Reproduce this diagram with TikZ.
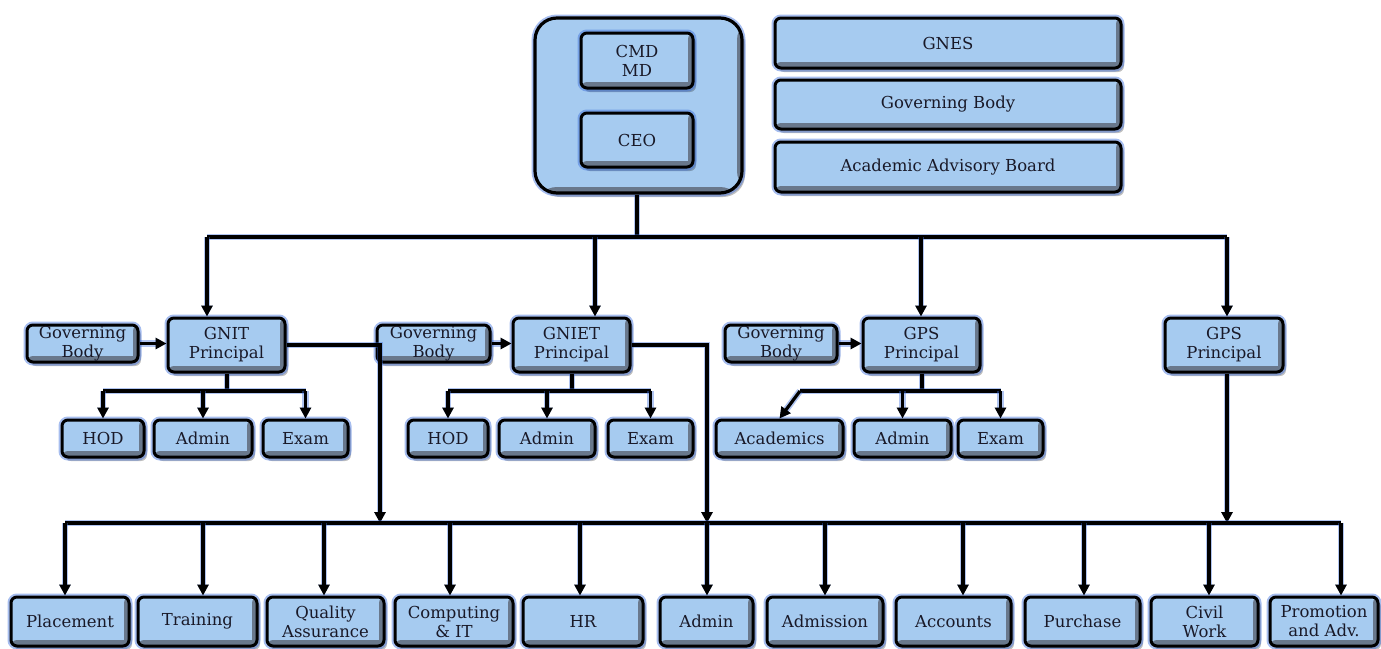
\documentclass[tikz,border=0pt]{standalone}
\usepackage{fontspec}
\setmainfont{DejaVu Serif}
\usetikzlibrary{arrows.meta,shadows}
\definecolor{boxblue}{RGB}{166,203,240}
\definecolor{bevelc}{RGB}{105,120,140}
\definecolor{glowblue}{RGB}{60,110,220}
\definecolor{txt}{RGB}{25,25,40}
\tikzset{
  orgbox/.style={draw=black, line width=3pt, fill=boxblue, rounded corners=6pt,
    text=txt, align=center, inner sep=0pt, font=\fontsize{16.5}{19}\selectfont,
    drop shadow={shadow xshift=3pt, shadow yshift=-4pt, opacity=0.25, fill=black},
    preaction={draw=glowblue, line width=7pt, opacity=0.45},
    path picture={
      \fill[bevelc] ([yshift=6pt]path picture bounding box.south west) rectangle (path picture bounding box.south east);
      \fill[bevelc] ([xshift=-5pt]path picture bounding box.north east) rectangle (path picture bounding box.south east);}},
  bigbox/.style={orgbox, rounded corners=22pt, line width=3.2pt},
  sz/.style 2 args={minimum width=#1pt, minimum height=#2pt},
  conn/.style={draw=black, line width=3.2pt, preaction={draw=glowblue, line width=6.5pt, opacity=0.4}},
  arr/.style={conn, -{Triangle[length=11pt,width=11pt]}},
}
\begin{document}
\begin{tikzpicture}[x=1pt,y=-1pt]
\useasboundingbox (0,0) rectangle (1381,648);
% top
\node[bigbox, sz={207}{175}] (cmdbox) at (638.5,105.5) {};
\node[orgbox, sz={112}{55}] (cmd) at (637,60.5) {CMD\\MD};
\node[orgbox, sz={112}{54}] (ceo) at (637,140) {CEO};
\node[orgbox, sz={346}{50}] (gnes) at (948,43) {GNES};
\node[orgbox, sz={346}{49}] (gb0) at (948,104.5) {Governing Body};
\node[orgbox, sz={346}{50}] (aab) at (948,167) {Academic Advisory Board};
% row 2
\node[orgbox, sz={111}{37}] (gb1) at (82.5,343.5) {Governing\\Body};
\node[orgbox, sz={117}{54}] (gnit) at (226.5,345) {GNIT\\Principal};
\node[orgbox, sz={113}{37}] (gb2) at (433.5,343.5) {Governing\\Body};
\node[orgbox, sz={117}{54}] (gniet) at (571.5,345) {GNIET\\Principal};
\node[orgbox, sz={112}{37}] (gb3) at (781,343.5) {Governing\\Body};
\node[orgbox, sz={117}{54}] (gps) at (921.5,345) {GPS\\Principal};
\node[orgbox, sz={118}{54}] (gps2) at (1224,345) {GPS\\Principal};
% row 3
\node[orgbox, sz={82}{37}] (hod1) at (103,438.5) {HOD};
\node[orgbox, sz={98}{37}] (adm1) at (203,438.5) {Admin};
\node[orgbox, sz={85}{37}] (ex1) at (305.5,438.5) {Exam};
\node[orgbox, sz={80}{37}] (hod2) at (448,438.5) {HOD};
\node[orgbox, sz={96}{37}] (adm2) at (547,438.5) {Admin};
\node[orgbox, sz={85}{37}] (ex2) at (650.5,438.5) {Exam};
\node[orgbox, sz={127}{37}] (acad) at (779.5,438.5) {Academics};
\node[orgbox, sz={97}{37}] (adm3) at (902.5,438.5) {Admin};
\node[orgbox, sz={85}{37}] (ex3) at (1000.5,438.5) {Exam};
% bottom
\node[orgbox, sz={118}{49}] (plc) at (70,621.5) {Placement};
\node[orgbox, sz={119}{49}] (trn) at (197.5,621.5) {Training};
\node[orgbox, sz={117}{49}] (qa) at (325.5,621.5) {Quality\\Assurance};
\node[orgbox, sz={118}{49}] (cit) at (454,621.5) {Computing\\\& IT};
\node[orgbox, sz={120}{49}] (hr) at (583,621.5) {HR};
\node[orgbox, sz={93}{49}] (adm) at (706.5,621.5) {Admin};
\node[orgbox, sz={116}{49}] (admn) at (825,621.5) {Admission};
\node[orgbox, sz={115}{49}] (acc) at (953.5,621.5) {Accounts};
\node[orgbox, sz={115}{49}] (pur) at (1082.5,621.5) {Purchase};
\node[orgbox, sz={107}{49}] (civ) at (1204.5,621.5) {Civil\\Work};
\node[orgbox, sz={108}{49}] (pro) at (1324,621.5) {Promotion\\and Adv.};
% top bus
\coordinate (tb) at (637,237);
\coordinate (t1) at (207,237);
\coordinate (t2) at (595,237);
\coordinate (t3) at (921,237);
\coordinate (t4) at (1227,237);
\draw[conn] (cmdbox.south -| tb) -- (tb);
\draw[conn] (t1) -- (t4);
\draw[arr] (t1) -- (t1 |- gnit.north);
\draw[arr] (t2) -- (t2 |- gniet.north);
\draw[arr] (t3) -- (t3 |- gps.north);
\draw[arr] (t4) -- (t4 |- gps2.north);
% governing body arrows
\draw[arr] (gb1.east) -- (gb1.east -| gnit.west);
\draw[arr] (gb2.east) -- (gb2.east -| gniet.west);
\draw[arr] (gb3.east) -- (gb3.east -| gps.west);
% principal to bottom bus
\coordinate (v1) at (380,523);
\coordinate (v2) at (707,523);
\coordinate (v3) at (1227,523);
\draw[arr] (gnit.east) -| (v1);
\draw[arr] (gniet.east) -| (v2);
\draw[arr] (v3 |- gps2.south) -- (v3);
% bottom bus
\coordinate (b0) at (65,523);
\coordinate (b1) at (1341,523);
\draw[conn] (b0) -- (b1);
\foreach \x/\n in {65/plc,203/trn,324/qa,450/cit,580/hr,707/adm,825/admn,963/acc,1084/pur,1209/civ,1341/pro}{
  \coordinate (bx) at (\x,523);
  \draw[arr] (bx) -- (bx |- \n.north);
}
% GNIT sub-bus
\coordinate (s1) at (227,391);
\draw[conn] (s1 |- gnit.south) -- (s1);
\draw[conn] (hod1.north |- s1) -- (ex1.north |- s1);
\draw[arr] (hod1.north |- s1) -- (hod1.north);
\draw[arr] (adm1.north |- s1) -- (adm1.north);
\draw[arr] (ex1.north |- s1) -- (ex1.north);
% GNIET sub-bus
\coordinate (s2) at (572,391);
\draw[conn] (s2 |- gniet.south) -- (s2);
\draw[conn] (hod2.north |- s2) -- (ex2.north |- s2);
\draw[arr] (hod2.north |- s2) -- (hod2.north);
\draw[arr] (adm2.north |- s2) -- (adm2.north);
\draw[arr] (ex2.north |- s2) -- (ex2.north);
% GPS sub-bus
\coordinate (s3) at (922,391);
\coordinate (g0) at (800,391);
\draw[conn] (s3 |- gps.south) -- (s3);
\draw[conn] (g0) -- (ex3.north |- s3);
\draw[arr] (g0) -- (acad.north);
\draw[arr] (adm3.north |- s3) -- (adm3.north);
\draw[arr] (ex3.north |- s3) -- (ex3.north);
\end{tikzpicture}
\end{document}
